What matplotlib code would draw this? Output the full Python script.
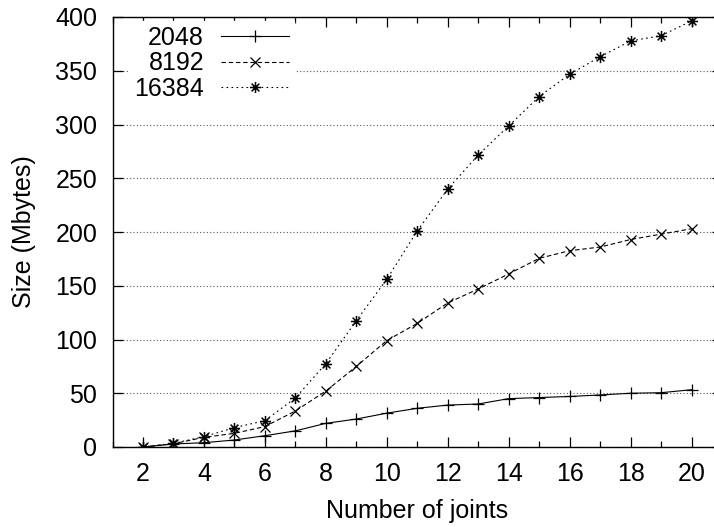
import matplotlib
matplotlib.use('Agg')
import matplotlib.pyplot as plt
from matplotlib.path import Path
import numpy as np

# joints vs size for three table sizes
joints = [2, 3, 4, 5, 6, 7, 8, 9, 10, 11, 12, 13, 14, 15, 16, 17, 18, 19, 20]
size_2048 = [0, 2.8, 4, 6.5, 10.5, 15, 22, 26, 31.5, 36, 39, 40, 45, 46, 47, 48.4, 50, 50.5, 53.3]
size_8192 = [0, 3, 9, 12.7, 19, 33.5, 52, 75, 99, 115, 134, 147, 161, 175.5, 182.6, 186, 193, 198, 203]
size_16384 = [0, 3.4, 9.6, 18, 24.5, 45.6, 77.5, 117.5, 156, 201, 240, 271.6, 298.6, 326, 346.7, 363, 377.7, 382.6, 396.3]
labels = ['2048', '8192', '16384']

xticks = [2, 4, 6, 8, 10, 12, 14, 16, 18, 20]
yticks = [0, 50, 100, 150, 200, 250, 300, 350, 400]

plt.rcParams['font.family'] = ['Liberation Sans', 'DejaVu Sans']
fs = 18

# gnuplot style asterisk: plus and cross together
star = Path([(-1, 0), (1, 0), (0, -1), (0, 1),
             (-0.7, -0.7), (0.7, 0.7), (-0.7, 0.7), (0.7, -0.7)],
            [Path.MOVETO, Path.LINETO] * 4)

fig = plt.figure(figsize=(7.14, 5.27), dpi=100)
ax = fig.add_axes([112.5 / 714, 1 - 447 / 527, (722 - 112.5) / 714, 430 / 527])

lw = 0.8
ax.plot(joints, size_2048, color='black', lw=lw, linestyle='-',
        marker='+', markersize=8, mew=0.9, label=labels[0])
ax.plot(joints, size_8192, color='black', lw=lw, linestyle=(0, (4, 2.5)),
        marker='x', markersize=6.5, mew=0.9, label=labels[1])
ax.plot(joints, size_16384, color='black', lw=lw, linestyle=(0, (1.5, 3)),
        marker=star, markersize=8, mew=1.1, mfc='none', label=labels[2])

ax.set_xlim(1, 21)
ax.set_ylim(0, 400)
ax.set_xticks(xticks)
ax.set_xticks(range(1, 22), minor=True)
ax.set_yticks(yticks)
ax.tick_params(axis='both', which='major', direction='in', length=7, width=0.9,
               labelsize=fs, top=True, right=True)
ax.tick_params(axis='x', which='minor', direction='in', length=4, width=0.9,
               top=True)
ax.tick_params(axis='x', which='major', pad=11)
ax.tick_params(axis='y', which='major', pad=11)

ax.yaxis.grid(True, linestyle=(0, (1, 2)), color='0.35', lw=0.8)
ax.set_axisbelow(True)
for sp in ax.spines.values():
    sp.set_linewidth(1.0)

ax.set_xlabel('Number of joints', fontsize=fs, labelpad=9)
ax.set_ylabel('Size (Mbytes)', fontsize=fs, labelpad=14)

leg = ax.legend(loc='upper right', bbox_to_anchor=(294 / 714, 1 - 21 / 527),
                bbox_transform=fig.transFigure, markerfirst=False,
                fontsize=fs, handlelength=2.72, handletextpad=0.68,
                labelspacing=0.05, borderpad=0.2, borderaxespad=0,
                frameon=True, fancybox=False, framealpha=1,
                facecolor='white', edgecolor='white')

fig.savefig('out.png', dpi=100)
